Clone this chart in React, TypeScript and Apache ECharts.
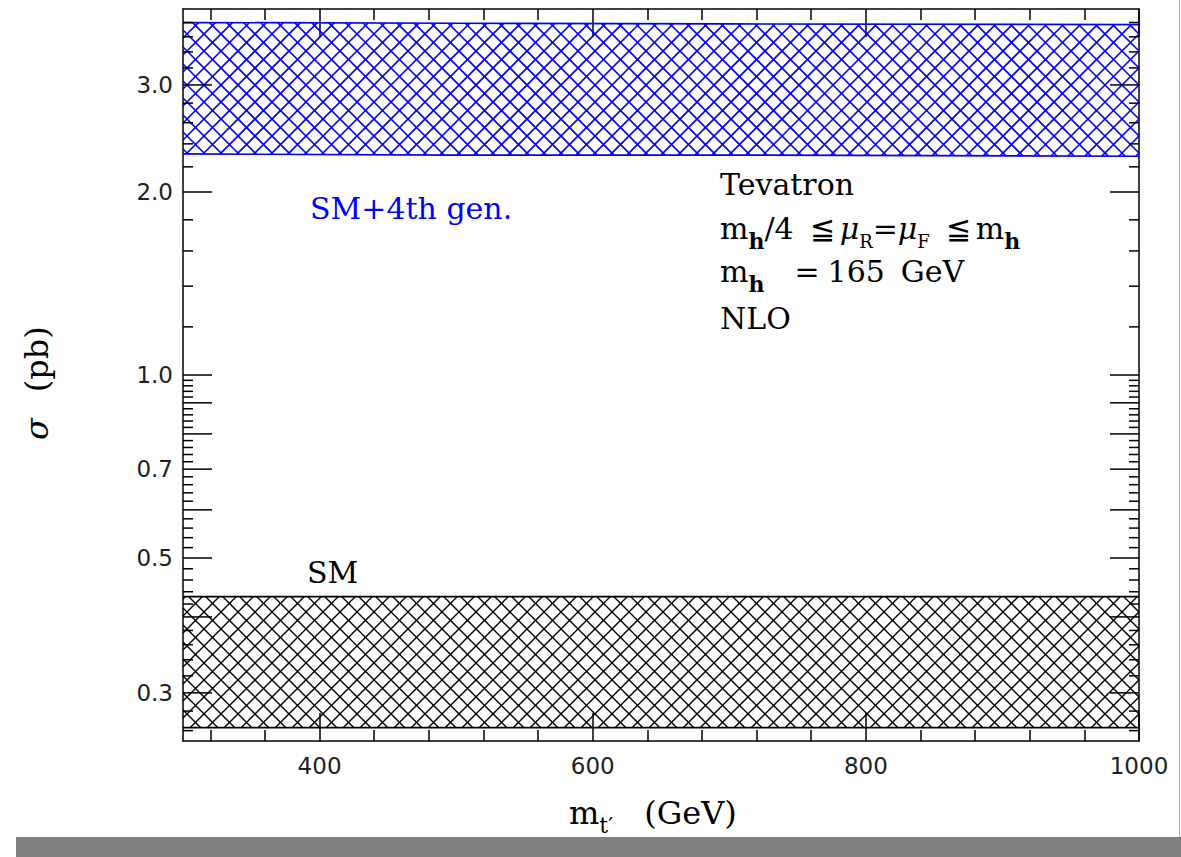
import React, { useEffect, useRef } from 'react';
import * as echarts from 'echarts';

// ---- data ----
const massGeV = [300, 500, 700, 1000];
const sm4Upper = [3.8, 3.79, 3.78, 3.77];
const sm4Lower = [2.31, 2.3, 2.3, 2.29];
const smUpper = [0.432, 0.432, 0.432, 0.432];
const smLower = [0.263, 0.263, 0.263, 0.263];

const X_MIN = 300;
const X_MAX = 1000;
const Y_MIN = 0.25;
const Y_MAX = 4.0;
const xMajorTicks = [400, 600, 800, 1000];
const xTickLabels = ['400', '600', '800', '1000'];
const xMinorTicks = [320, 360, 440, 480, 520, 560, 640, 680, 720, 760, 840, 880, 920, 960];
const yMajorTicks = [0.3, 0.4, 0.5, 0.6, 0.7, 0.8, 0.9, 1.0, 2.0, 3.0];
const yMinorTicks = [
  0.26, 0.28, 0.32, 0.34, 0.36, 0.38, 0.42, 0.44, 0.46, 0.48, 0.52, 0.54, 0.56, 0.58,
  0.62, 0.64, 0.66, 0.68, 0.72, 0.74, 0.76, 0.78, 0.82, 0.84, 0.86, 0.88, 0.92, 0.94,
  0.96, 0.98, 1.2, 1.4, 1.6, 1.8, 2.2, 2.4, 2.6, 2.8, 3.2, 3.4, 3.6, 3.8,
];
const yLabelValues = [0.3, 0.5, 0.7, 1.0, 2.0, 3.0];
const yTickLabels = ['0.3', '0.5', '0.7', '1.0', '2.0', '3.0'];

const SERIF = '"DejaVu Serif", serif';
const SANS = '"DejaVu Sans", sans-serif';

function interpY(pts: number[][], x: number) {
  let i = 0;
  while (i < pts.length - 2 && x > pts[i + 1][0]) i++;
  const [x0, y0] = pts[i];
  const [x1, y1] = pts[i + 1];
  return y0 + ((y1 - y0) * (x - x0)) / (x1 - x0);
}
function solveDown(pts: number[][], c: number) {
  let x = pts[0][0];
  for (let k = 0; k < 8; k++) x = interpY(pts, x) - c;
  return x;
}
function solveUp(pts: number[][], c: number) {
  let x = pts[0][0];
  for (let k = 0; k < 8; k++) x = c - interpY(pts, x);
  return x;
}

function makeBandRender(upper: number[], lower: number[], color: string, hatchW: number, edgeW: number) {
  return (params: any, api: any) => {
    if (params.dataIndex !== 0) return null;
    const top = massGeV.map((m, i) => api.coord([m, upper[i]]));
    const bot = massGeV.map((m, i) => api.coord([m, lower[i]]));
    const xl = top[0][0];
    const xr = top[top.length - 1][0];
    const tMin = Math.min(...top.map((p: number[]) => p[1]));
    const bMax = Math.max(...bot.map((p: number[]) => p[1]));
    const step = 17;
    const st = { stroke: color, lineWidth: hatchW };
    const children: any[] = [];
    for (let c = Math.floor((tMin - xr) / step) * step; c <= bMax - xl; c += step) {
      const xt = solveDown(top, c);
      const xb = solveDown(bot, c);
      const x1 = Math.max(xt, xl);
      const x2 = Math.min(xb, xr);
      if (x2 - x1 > 0.5) {
        children.push({ type: 'line', shape: { x1, y1: x1 + c, x2, y2: x2 + c }, style: st });
      }
    }
    for (let c = Math.floor((tMin + xl) / step) * step; c <= bMax + xr; c += step) {
      const xb = solveUp(bot, c);
      const xt = solveUp(top, c);
      const x1 = Math.max(xb, xl);
      const x2 = Math.min(xt, xr);
      if (x2 - x1 > 0.5) {
        children.push({ type: 'line', shape: { x1, y1: c - x1, x2, y2: c - x2 }, style: st });
      }
    }
    children.push({ type: 'polyline', shape: { points: top }, style: { stroke: color, lineWidth: edgeW, fill: null } });
    children.push({ type: 'polyline', shape: { points: bot }, style: { stroke: color, lineWidth: edgeW, fill: null } });
    return { type: 'group', children };
  };
}

function makeYTickRender(len: number) {
  return (params: any, api: any) => {
    const v = api.value(1);
    const l = api.coord([X_MIN, v]);
    const r = api.coord([X_MAX, v]);
    const st = { stroke: '#000', lineWidth: 1.5 };
    return {
      type: 'group',
      children: [
        { type: 'line', shape: { x1: l[0], y1: l[1], x2: l[0] + len, y2: l[1] }, style: st },
        { type: 'line', shape: { x1: r[0], y1: r[1], x2: r[0] - len, y2: r[1] }, style: st },
      ],
    };
  };
}

const lineSt = { color: '#000', width: 1.5 };

function xAxisDef(position: string, ticks: number[], len: number, withLine: boolean, withLabels: boolean) {
  return {
    type: 'value',
    position,
    min: X_MIN,
    max: X_MAX,
    axisLine: { show: withLine, onZero: false, lineStyle: lineSt },
    axisTick: { show: true, inside: true, length: len, customValues: ticks, lineStyle: lineSt },
    axisLabel: withLabels
      ? {
          show: true,
          customValues: xMajorTicks,
          formatter: (v: number) => xTickLabels[xMajorTicks.indexOf(v)] ?? '',
          fontFamily: SANS,
          fontSize: 23,
          color: '#1e1e1e',
          margin: 13,
        }
      : { show: false },
    splitLine: { show: false },
  };
}

function yAxisDef(position: string) {
  return {
    type: 'log',
    logBase: 10,
    position,
    min: Y_MIN,
    max: Y_MAX,
    axisLine: { show: true, onZero: false, lineStyle: lineSt },
    axisTick: { show: false },
    axisLabel: { show: false },
    splitLine: { show: false },
    minorTick: { show: false },
  };
}

export default function App() {
  const ref = useRef<HTMLDivElement>(null);
  useEffect(() => {
    const chart = echarts.init(ref.current!, null, { renderer: 'svg' });
    const n = `30px ${SERIF}`;
    const LH = 30;
    const annRich = {
      n: { font: n, fill: '#000', lineHeight: LH },
      mu: { font: `italic 30px ${SERIF}`, fill: '#000', lineHeight: LH },
      hb: { font: `bold 22px ${SERIF}`, fill: '#000', padding: [26, 0, 0, 0], lineHeight: LH },
      sr: { font: `18px ${SERIF}`, fill: '#000', padding: [26, 0, 0, 0], lineHeight: LH },
      le: { font: n, fill: '#000', padding: [0, 5, 0, 16], lineHeight: LH },
      eq: { font: n, fill: '#000', padding: [0, 8, 0, 30], lineHeight: LH },
      gp: { font: n, fill: '#000', padding: [0, 0, 0, 16], lineHeight: LH },
    };
    const option: any = {
      animation: false,
      backgroundColor: '#fff',
      grid: { left: 183, right: 42, top: 9, bottom: 116, containLabel: false, outerBoundsMode: 'none' },
      xAxis: [
        xAxisDef('bottom', xMajorTicks, 28, true, true),
        xAxisDef('bottom', xMinorTicks, 11, false, false),
        xAxisDef('top', xMajorTicks, 28, true, false),
        xAxisDef('top', xMinorTicks, 11, false, false),
      ],
      yAxis: [yAxisDef('left'), yAxisDef('right')],
      series: [
        {
          type: 'custom',
          name: 'SM+4th gen.',
          coordinateSystem: 'cartesian2d',
          xAxisIndex: 0,
          yAxisIndex: 0,
          clip: false,
          silent: true,
          z: 2,
          data: massGeV.map((m, i) => [m, sm4Lower[i], sm4Upper[i]]),
          renderItem: makeBandRender(sm4Upper, sm4Lower, '#0000ff', 1.6, 1.7),
        },
        {
          type: 'custom',
          name: 'SM',
          coordinateSystem: 'cartesian2d',
          xAxisIndex: 0,
          yAxisIndex: 0,
          clip: false,
          silent: true,
          z: 2,
          data: massGeV.map((m, i) => [m, smLower[i], smUpper[i]]),
          renderItem: makeBandRender(smUpper, smLower, '#000000', 1.4, 1.7),
        },
        {
          type: 'custom',
          coordinateSystem: 'cartesian2d',
          xAxisIndex: 0,
          yAxisIndex: 0,
          clip: false,
          silent: true,
          z: 5,
          data: yMajorTicks.map((v) => [X_MIN, v]),
          renderItem: makeYTickRender(29),
        },
        {
          type: 'custom',
          coordinateSystem: 'cartesian2d',
          xAxisIndex: 0,
          yAxisIndex: 0,
          clip: false,
          silent: true,
          z: 5,
          data: yMinorTicks.map((v) => [X_MIN, v]),
          renderItem: makeYTickRender(10),
        },
        {
          type: 'custom',
          coordinateSystem: 'cartesian2d',
          xAxisIndex: 0,
          yAxisIndex: 0,
          clip: false,
          silent: true,
          z: 5,
          data: yLabelValues.map((v) => [X_MIN, v]),
          renderItem: (params: any, api: any) => {
            const p = api.coord([X_MIN, api.value(1)]);
            return {
              type: 'text',
              x: p[0] - 10,
              y: p[1],
              style: {
                text: yTickLabels[params.dataIndex],
                font: `23px ${SANS}`,
                fill: '#1e1e1e',
                align: 'right',
                verticalAlign: 'middle',
              },
            };
          },
        },
      ],
      graphic: [
        { type: 'rect', shape: { x: 16, y: 837, width: 1165, height: 20 }, style: { fill: '#808080' }, z: 1 },
        { type: 'line', shape: { x1: 1179.5, y1: 0, x2: 1179.5, y2: 837 }, style: { stroke: '#a8a8a8', lineWidth: 1 }, z: 1 },
        {
          type: 'text', x: 720, y: 184, z: 10,
          style: { text: 'Tevatron', font: n, fill: '#000', align: 'left', verticalAlign: 'middle' },
        },
        {
          type: 'text', x: 720, y: 228, z: 10,
          style: {
            text: '{n|m}{hb|h}{n|/4}{le|≦}{mu|μ}{sr|R}{n|=}{mu|μ}{sr|F}{le|≦}{n|m}{hb|h}',
            rich: annRich, font: n, fill: '#000', lineHeight: LH, align: 'left', verticalAlign: 'middle',
          },
        },
        {
          type: 'text', x: 720, y: 271, z: 10,
          style: {
            text: '{n|m}{hb|h}{eq|=}{n|165}{gp|GeV}',
            rich: annRich, font: n, fill: '#000', lineHeight: LH, align: 'left', verticalAlign: 'middle',
          },
        },
        {
          type: 'text', x: 720, y: 318, z: 10,
          style: { text: 'NLO', font: n, fill: '#000', align: 'left', verticalAlign: 'middle' },
        },
        {
          type: 'text', x: 310, y: 208, z: 10,
          style: { text: 'SM+4th gen.', font: n, fill: '#0000ff', align: 'left', verticalAlign: 'middle' },
        },
        {
          type: 'text', x: 307, y: 572, z: 10,
          style: { text: 'SM', font: n, fill: '#000', align: 'left', verticalAlign: 'middle' },
        },
        {
          type: 'text', x: 569, y: 813, z: 10,
          style: {
            text: '{m|m}{st|t′}{g|(GeV)}',
            rich: {
              m: { font: `32px ${SERIF}`, fill: '#000', lineHeight: 32 },
              st: { font: `22px ${SERIF}`, fill: '#000', padding: [24, 0, 0, 0], lineHeight: 32 },
              g: { font: `32px ${SERIF}`, fill: '#000', padding: [0, 0, 0, 31], lineHeight: 32 },
            },
            font: `32px ${SERIF}`, fill: '#000', lineHeight: 32, align: 'left', verticalAlign: 'middle',
          },
        },
        {
          type: 'text', x: 37, y: 440, rotation: Math.PI / 2, z: 10,
          style: {
            text: '{s|σ}{g|(pb)}',
            rich: {
              s: { font: `italic 32px ${SERIF}`, fill: '#000' },
              g: { font: `32px ${SERIF}`, fill: '#000', padding: [0, 0, 0, 26] },
            },
            font: `32px ${SERIF}`, fill: '#000', align: 'left', verticalAlign: 'middle',
          },
        },
      ],
    };
    chart.setOption(option);
    return () => chart.dispose();
  }, []);
  return (
    <div
      ref={ref}
      style={{ position: 'fixed', left: 0, top: 0, width: 1181, height: 857, background: '#fff' }}
    />
  );
}
